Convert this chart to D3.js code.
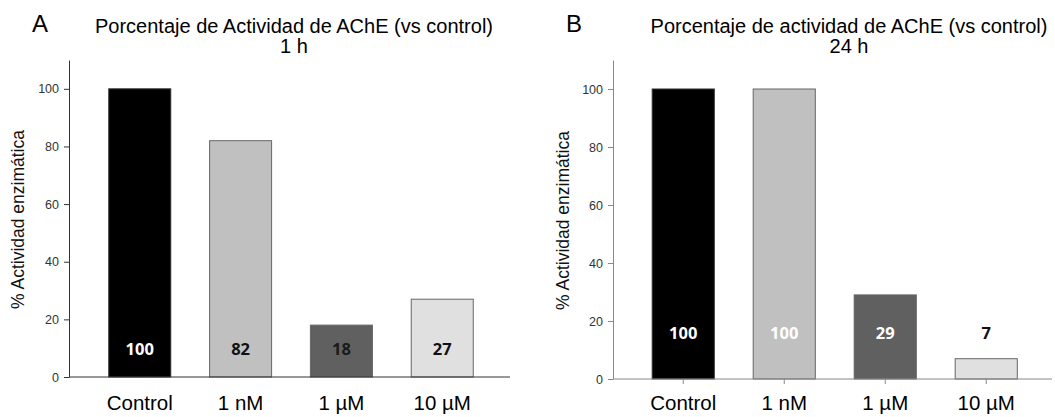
<!DOCTYPE html>
<html>
<head>
<meta charset="utf-8">
<script src="https://cdn.jsdelivr.net/npm/d3@7"></script>
<style>
  html, body { margin: 0; padding: 0; background: #fff; }
  svg { display: block; }
</style>
</head>
<body>
<svg id="chart" width="1055" height="417"></svg>
<script>
// Treatment groups shared by both panels
const categories = ["Control", "1 nM", "1 \u00b5M", "10 \u00b5M"];

// Enzyme activity (% of control) after 1 h and 24 h of exposure
const activity1h = [100, 82, 18, 27];
const activity24h = [100, 100, 29, 7];

// Y axis ticks
const yTicks = [0, 20, 40, 60, 80, 100];

// Panel titles
const panelLetters = ["A", "B"];
const titleLines1h = ["Porcentaje de Actividad de AChE (vs control)", "1 h"];
const titleLines24h = ["Porcentaje de actividad de AChE (vs control)", "24 h"];
const yAxisTitle = "% Actividad enzim\u00e1tica";

const svg = d3.select("#chart");
const barFills = ["#000000", "#c0c0c0", "#606060", "#e0e0e0"];

function drawPanel(opt) {
  const g = svg.append("g");

  const x = d3.scaleBand()
    .domain(categories)
    .range([opt.bandLeft, opt.bandRight])
    .paddingInner(0.385)
    .paddingOuter(0.19);

  const y = d3.scaleLinear()
    .domain([0, 110])
    .range([opt.bottom, opt.top]);

  // Panel letter
  g.append("text")
    .attr("x", opt.letterX).attr("y", 32)
    .attr("font-family", "Liberation Sans, Arial, sans-serif")
    .attr("font-size", 24)
    .attr("fill", "#000")
    .text(opt.letter);

  // Two-line title
  g.selectAll("text.title")
    .data(opt.titleLines)
    .join("text")
    .attr("class", "title")
    .attr("x", opt.titleX)
    .attr("y", (d, i) => 33 + i * 20)
    .attr("text-anchor", "middle")
    .attr("font-family", "Liberation Sans, Arial, sans-serif")
    .attr("font-size", 20)
    .attr("fill", "#000")
    .text(d => d);

  // Bars
  g.selectAll("rect.bar")
    .data(opt.values)
    .join("rect")
    .attr("class", "bar")
    .attr("x", (d, i) => x(categories[i]))
    .attr("y", d => y(d))
    .attr("width", x.bandwidth())
    .attr("height", d => y(0) - y(d))
    .attr("fill", (d, i) => barFills[i])
    .attr("stroke", (d, i) => i === 0 ? "#333" : "#666")
    .attr("stroke-width", 1);

  // Value labels
  g.selectAll("text.value")
    .data(opt.values)
    .join("text")
    .attr("class", "value")
    .attr("x", (d, i) => x(categories[i]) + x.bandwidth() / 2)
    .attr("y", d => d < 15 ? y(d) - 20 : opt.labelY)
    .attr("text-anchor", "middle")
    .attr("font-family", "Open Sans, sans-serif")
    .attr("font-weight", "bold")
    .attr("font-size", 16.5)
    .attr("fill", (d, i) => opt.labelColors[i])
    .text(d => d);

  // Y axis
  const yAxis = g.append("g")
    .attr("transform", `translate(${opt.axisX},0)`)
    .call(d3.axisLeft(y).tickValues(yTicks).tickSize(5).tickPadding(5).tickSizeOuter(0));
  yAxis.select(".domain").attr("stroke", opt.axisColor);
  yAxis.selectAll(".tick line").attr("stroke", opt.axisColor);
  yAxis.selectAll(".tick text")
    .attr("font-family", "Liberation Sans, Arial, sans-serif")
    .attr("font-size", 12.5)
    .attr("fill", "#333");

  // X axis baseline
  g.append("line")
    .attr("x1", opt.axisX).attr("x2", opt.axisRight)
    .attr("y1", y(0)).attr("y2", y(0))
    .attr("stroke", opt.axisColor);

  // X ticks (only where drawn)
  if (opt.xTicks) {
    g.selectAll("line.xtick")
      .data(categories)
      .join("line")
      .attr("class", "xtick")
      .attr("x1", d => x(d) + x.bandwidth() / 2)
      .attr("x2", d => x(d) + x.bandwidth() / 2)
      .attr("y1", y(0)).attr("y2", y(0) + 5)
      .attr("stroke", opt.axisColor);
  }

  // Category labels
  g.selectAll("text.cat")
    .data(categories)
    .join("text")
    .attr("class", "cat")
    .attr("x", d => x(d) + x.bandwidth() / 2)
    .attr("y", 410)
    .attr("text-anchor", "middle")
    .attr("font-family", "Liberation Sans, Arial, sans-serif")
    .attr("font-size", 20.5)
    .attr("fill", "#000")
    .text(d => d);

  // Y axis title
  g.append("text")
    .attr("transform", `translate(${opt.yTitleX},${(opt.top + opt.bottom) / 2 + 1}) rotate(-90)`)
    .attr("text-anchor", "middle")
    .attr("font-family", "Liberation Sans, Arial, sans-serif")
    .attr("font-size", 17.5)
    .attr("fill", "#111")
    .text(yAxisTitle);
}

drawPanel({
  letter: panelLetters[0], letterX: 32,
  titleLines: titleLines1h, titleX: 294,
  values: activity1h,
  bandLeft: 89.6, bandRight: 492.4,
  top: 60, bottom: 377,
  axisX: 69, axisRight: 510,
  axisColor: "#333",
  xTicks: false,
  labelY: 355,
  labelColors: ["#fff", "#111", "#1a1a1a", "#111"],
  yTitleX: 24
});

drawPanel({
  letter: panelLetters[1], letterX: 566,
  titleLines: titleLines24h, titleX: 849,
  values: activity24h,
  bandLeft: 633, bandRight: 1036.5,
  top: 60, bottom: 379,
  axisX: 613, axisRight: 1052,
  axisColor: "#888",
  xTicks: true,
  labelY: 339,
  labelColors: ["#fff", "#fff", "#fff", "#111"],
  yTitleX: 569
});
</script>
</body>
</html>
